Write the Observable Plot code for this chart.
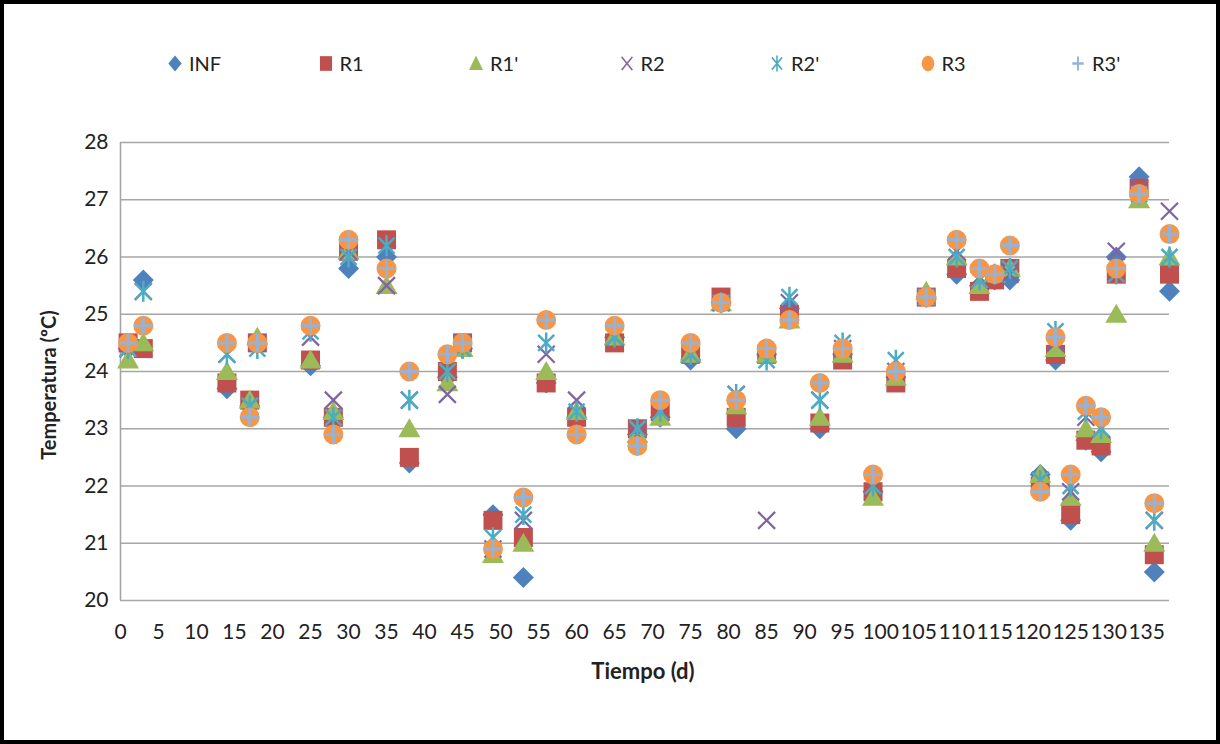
<!DOCTYPE html>
<html><head><meta charset="utf-8">
<script src="https://cdn.jsdelivr.net/npm/d3@7"></script>
<script src="https://cdn.jsdelivr.net/npm/@observablehq/plot@0.6"></script>
<style>
html,body{margin:0;padding:0;background:#fff;}
#frame{position:relative;width:1220px;height:744px;box-sizing:border-box;border:4px solid #000;background:#fff;overflow:hidden;font-family:Lato,"Open Sans",sans-serif;color:#222;}
#legend{position:absolute;left:164px;top:47px;display:flex;}
.item{display:flex;align-items:center;width:150.5px;font-size:20px;height:24px;}
.item svg{margin-right:7px;flex:none;}
#chart{position:absolute;left:0;top:0;}
.ytitle{position:absolute;left:44px;top:381px;transform:translate(-50%,-50%) rotate(-90deg);font-weight:bold;font-size:20px;white-space:nowrap;}
.xtitle{position:absolute;left:639px;top:666px;transform:translate(-50%,-50%);font-weight:bold;font-size:22px;white-space:nowrap;}
</style>
</head><body>
<div id="frame">
  <div id="legend"></div>
  <div id="chart"></div>
  <div class="ytitle">Temperatura (ºC)</div>
  <div class="xtitle">Tiempo (d)</div>
</div>
<script>
// ---- data ----
const days = [1, 3, 14, 17, 18, 25, 28, 30, 35, 38, 43, 45, 49, 53, 56, 60, 65, 68, 71, 75, 79, 81, 85, 88, 92, 95, 99, 102, 106, 110, 113, 115, 117, 121, 123, 125, 127, 129, 131, 134, 136, 138];
const inf  = [24.4, 25.6, 23.7, 23.4, 24.5, 24.1, 23.2, 25.8, 26.0, 22.4, 23.9, 24.4, 21.5, 20.4, 23.8, 23.2, 24.6, 22.9, 23.2, 24.2, 25.2, 23.0, 24.3, 25.1, 23.0, 24.3, 21.9, 23.9, 25.3, 25.7, 25.5, 25.6, 25.6, 22.2, 24.2, 21.4, 22.8, 22.6, 26.0, 27.4, 20.5, 25.4];
const r1   = [24.5, 24.4, 23.8, 23.5, 24.5, 24.2, 23.2, 26.1, 26.3, 22.5, 24.0, 24.5, 21.4, 21.1, 23.8, 23.2, 24.5, 23.0, 23.3, 24.3, 25.3, 23.2, 24.3, 25.0, 23.1, 24.2, 21.9, 23.8, 25.3, 25.8, 25.4, 25.6, 25.8, 22.0, 24.3, 21.5, 22.8, 22.7, 25.7, 27.2, 20.8, 25.7];
const r1p  = [24.2, 24.5, 24.0, 23.5, 24.6, 24.2, 23.3, 26.1, 25.5, 23.0, 23.8, 24.4, 20.8, 21.0, 24.0, 23.3, 24.6, 22.9, 23.2, 24.3, 25.2, 23.4, 24.3, 24.9, 23.2, 24.3, 21.8, 23.9, 25.4, 26.0, 25.5, 25.7, 25.8, 22.2, 24.4, 21.8, 23.0, 22.9, 25.0, 27.0, 21.0, 26.0];
const r2   = [24.4, 25.4, 24.3, 23.4, 24.5, 24.6, 23.5, 26.1, 25.5, 23.5, 23.6, 24.5, 20.9, 21.4, 24.3, 23.5, 24.6, 22.9, 23.3, 24.3, 25.2, 23.6, 21.4, 25.2, 23.5, 24.4, 22.0, 24.0, 25.3, 26.1, 25.6, 25.7, 25.7, 22.1, 24.5, 21.9, 23.2, 23.0, 26.1, 27.2, 21.4, 26.8];
const r2p  = [24.4, 25.4, 24.3, 23.4, 24.4, 24.7, 23.2, 26.0, 26.2, 23.5, 24.0, 24.4, 21.1, 21.5, 24.5, 23.3, 24.6, 23.0, 23.3, 24.3, 25.2, 23.6, 24.2, 25.3, 23.5, 24.5, 22.0, 24.2, 25.3, 26.0, 25.6, 25.7, 25.8, 22.1, 24.7, 22.0, 23.3, 23.0, 25.7, 27.1, 21.4, 26.0];
const r3   = [24.5, 24.8, 24.5, 23.2, 24.5, 24.8, 22.9, 26.3, 25.8, 24.0, 24.3, 24.5, 20.9, 21.8, 24.9, 22.9, 24.8, 22.7, 23.5, 24.5, 25.2, 23.5, 24.4, 24.9, 23.8, 24.4, 22.2, 24.0, 25.3, 26.3, 25.8, 25.7, 26.2, 21.9, 24.6, 22.2, 23.4, 23.2, 25.8, 27.1, 21.7, 26.4];
const r3p  = [24.5, 24.8, 24.5, 23.2, 24.5, 24.8, 22.9, 26.3, 25.8, 24.0, 24.3, 24.5, 20.9, 21.8, 24.9, 22.9, 24.8, 22.7, 23.5, 24.5, 25.2, 23.5, 24.4, 24.9, 23.8, 24.4, 22.2, 24.0, 25.3, 26.3, 25.8, 25.7, 26.2, 21.9, 24.6, 22.2, 23.4, 23.2, 25.8, 27.1, 21.7, 26.4];
const seriesNames = ["INF", "R1", "R1'", "R2", "R2'", "R3", "R3'"];
const xTicks = [0, 5, 10, 15, 20, 25, 30, 35, 40, 45, 50, 55, 60, 65, 70, 75, 80, 85, 90, 95, 100, 105, 110, 115, 120, 125, 130, 135];
const yTicks = [20, 21, 22, 23, 24, 25, 26, 27, 28];

// ---- symbols ----
const rad = s => Math.sqrt(s / Math.PI);
const sym = {
  diamond: {draw(c, s) { const r = rad(s); c.moveTo(0, -r); c.lineTo(r, 0); c.lineTo(0, r); c.lineTo(-r, 0); c.closePath(); }},
  square: {draw(c, s) { const r = rad(s); c.moveTo(-r, -r); c.lineTo(r, -r); c.lineTo(r, r); c.lineTo(-r, r); c.closePath(); }},
  triangle: {draw(c, s) { const r = rad(s); c.moveTo(0, -r); c.lineTo(r * 1.05, r * 0.8); c.lineTo(-r * 1.05, r * 0.8); c.closePath(); }},
  times: {draw(c, s) { const r = rad(s); c.moveTo(-r, -r); c.lineTo(r, r); c.moveTo(r, -r); c.lineTo(-r, r); }},
  star: {draw(c, s) { const r = rad(s); c.moveTo(-r, -r); c.lineTo(r, r); c.moveTo(r, -r); c.lineTo(-r, r); c.moveTo(0, -r * 1.3); c.lineTo(0, r * 1.3); }},
  circle: {draw(c, s) { const r = rad(s); c.moveTo(r, 0); c.arc(0, 0, r, 0, 2 * Math.PI); c.closePath(); }},
  plus: {draw(c, s) { const r = rad(s); c.moveTo(-r, 0); c.lineTo(r, 0); c.moveTo(0, -r); c.lineTo(0, r); }}
};

const styles = [
  {values: inf, symbol: sym.diamond, r: 10.5, fill: "#4F81BD", stroke: "none", sw: 0},
  {values: r1, symbol: sym.square, r: 9.5, fill: "#C0504D", stroke: "none", sw: 0},
  {values: r1p, symbol: sym.triangle, r: 10.5, fill: "#9BBB59", stroke: "none", sw: 0},
  {values: r2, symbol: sym.times, r: 8.5, fill: "none", stroke: "#8064A2", sw: 2.2},
  {values: r2p, symbol: sym.star, r: 8, fill: "none", stroke: "#4BACC6", sw: 2.5},
  {values: r3, symbol: sym.circle, r: 10, fill: "#F79646", stroke: "none", sw: 0},
  {values: r3p, symbol: sym.plus, r: 9, fill: "none", stroke: "#95B3D7", sw: 3}
];

const table = seriesNames.flatMap((name, i) => days.map((d, j) => ({series: name, day: d, value: styles[i].values[j]})));

const dotMarks = seriesNames.map((name, i) => {
  const s = styles[i];
  return Plot.dot(table.filter(d => d.series === name), {
    x: "day", y: "value", symbol: s.symbol, r: s.r,
    fill: s.fill, stroke: s.stroke, strokeWidth: s.sw, strokeLinecap: "butt"
  });
});

const chart = Plot.plot({
  width: 1212, height: 736,
  marginLeft: 116, marginRight: 47, marginTop: 138, marginBottom: 140,
  style: {fontFamily: "Lato, 'Open Sans', sans-serif", fontSize: "21px", color: "#222", background: "transparent", overflow: "visible"},
  x: {domain: [0, 138], ticks: xTicks, tickSize: 0, tickPadding: 24, label: null},
  y: {domain: [20, 28], ticks: yTicks, tickSize: 0, tickPadding: 12, label: null},
  marks: [
    Plot.ruleY(yTicks, {stroke: "#a6a6a6", strokeWidth: 1.6}),
    Plot.ruleX([0], {stroke: "#a6a6a6", strokeWidth: 1.6}),
    ...dotMarks
  ]
});
document.getElementById("chart").appendChild(chart);

// ---- legend ----
const legend = d3.select("#legend");
seriesNames.forEach((name, i) => {
  const s = styles[i];
  const item = legend.append("div").attr("class", "item");
  const svg = item.append("svg").attr("width", 14).attr("height", 17)
    .attr("viewBox", "-11 -11 22 22").attr("preserveAspectRatio", "none");
  const p = d3.path();
  s.symbol.draw(p, s.r * s.r * Math.PI);
  svg.append("path").attr("d", p.toString())
    .attr("fill", s.fill).attr("stroke", s.stroke).attr("stroke-width", s.sw);
  item.append("span").text(name);
});
</script>
</body></html>
